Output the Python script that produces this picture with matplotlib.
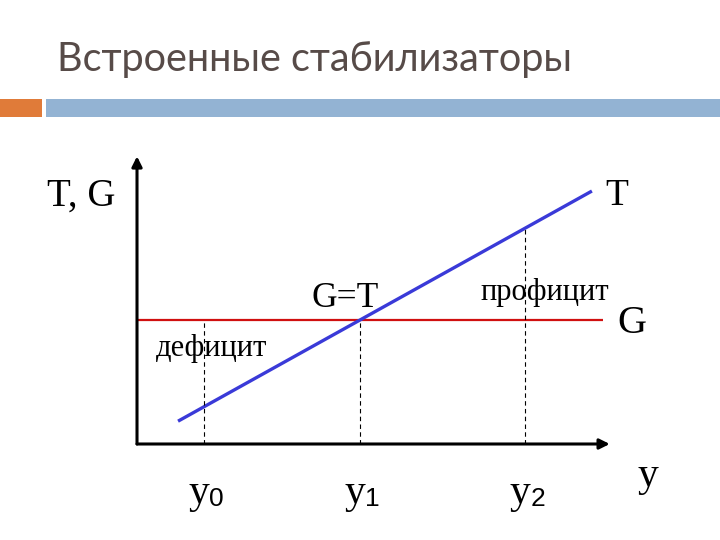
import matplotlib
matplotlib.use("Agg")
import matplotlib.pyplot as plt
from matplotlib.patches import Rectangle

# ---- data (economic units) ----
income_levels = [1.5, 5.0, 8.7]          # y0, y1, y2
income_labels = ["0", "1", "2"]
gov_spending = 5.0                        # G (constant)
tax_rate = 1.0                            # T = t * Y
t_line_x = [0.92, 10.2]
g_line_x = [0.0, 10.45]
x_axis_end = 10.6
y_axis_end = 11.6

title = "Встроенные стабилизаторы"

fig = plt.figure(figsize=(7.2, 5.4), dpi=100)
fig.patch.set_facecolor("white")

# header decorations
fig.patches.append(Rectangle((0, 1 - 117/540), 42/720, 18/540, transform=fig.transFigure,
                             facecolor="#e07b39", edgecolor="none"))
fig.patches.append(Rectangle((46/720, 1 - 117/540), 1 - 46/720, 18/540, transform=fig.transFigure,
                             facecolor="#93b3d3", edgecolor="none"))
fig.text(57/720, 1 - 60/540, title, fontsize=28.5, family="Lato", color="#574b48",
         ha="left", va="center")

ax = fig.add_axes([0, 0, 1, 1])
ax.set_xlim(-3.072, 13.072)
ax.set_ylim(-3.871, 17.903)
ax.axis("off")

serif = "Liberation Serif"

# axes arrows
ax.annotate("", xy=(x_axis_end, 0), xytext=(0, 0),
            arrowprops=dict(arrowstyle="-|>,head_length=0.6,head_width=0.3", lw=2.2, color="black",
                            shrinkA=0, shrinkB=0))
ax.annotate("", xy=(0, y_axis_end), xytext=(0, 0),
            arrowprops=dict(arrowstyle="-|>,head_length=0.6,head_width=0.3", lw=2.2, color="black",
                            shrinkA=0, shrinkB=0))

# G line
ax.plot(g_line_x, [gov_spending, gov_spending], color="#d01010", lw=1.6, solid_capstyle="butt")
# T line
ax.plot(t_line_x, [tax_rate * x for x in t_line_x], color="#3a3ad8", lw=2.4, solid_capstyle="butt")

# dashed verticals
for yv in income_levels:
    top = max(gov_spending, tax_rate * yv)
    ax.plot([yv, yv], [0, top], color="black", lw=0.8, ls=(0, (4, 3)))

# labels for income levels
for yv, lab in zip(income_levels, income_labels):
    ax.text(yv - 0.12, -1.95, "y", family=serif, fontsize=30, ha="center", va="center")
    ax.text(yv + 0.28, -2.2, lab, family="Liberation Sans", fontsize=19, ha="center", va="center")

ax.text(11.45, -1.3, "y", family=serif, fontsize=30, ha="center", va="center")

# other labels
ax.text(-1.25, 10.0, "T, G", family=serif, fontsize=28, ha="center", va="center")
ax.text(10.765, 10.0, "T", family=serif, fontsize=27, ha="center", va="center")
ax.text(11.1, 4.85, "G", family=serif, fontsize=29, ha="center", va="center")
ax.text(4.66, 5.85, "G=T", family=serif, fontsize=25.5, ha="center", va="center")
ax.text(9.15, 6.1, "профицит", family=serif, fontsize=22, ha="center", va="center")
ax.text(1.68, 3.85, "дефицит", family=serif, fontsize=22, ha="center", va="center")

fig.savefig("out.png", dpi=100)
